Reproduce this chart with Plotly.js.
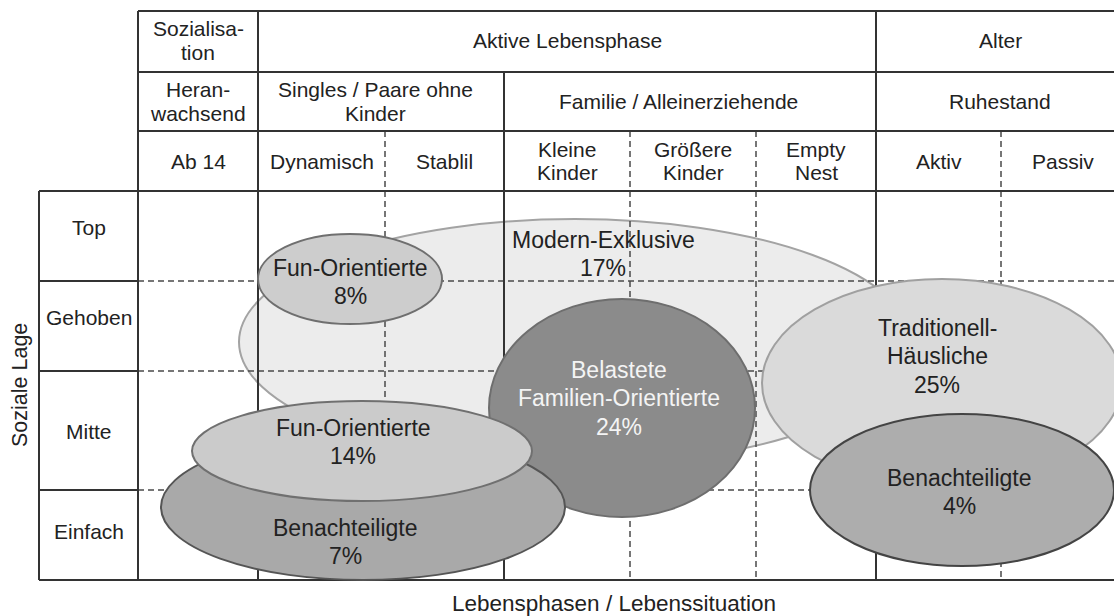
<!DOCTYPE html>
<html>
<head>
<meta charset="utf-8">
<script src="https://cdn.plot.ly/plotly-3.0.1.min.js"></script>
<style>html,body{margin:0;padding:0;background:#fff;}#chart{width:1114px;height:616px;}</style>
</head>
<body>
<div id="chart"></div>
<script>
// ---------- data ----------
const phaseLevel1 = ['Sozialisa-<br>tion', 'Aktive Lebensphase', 'Alter'];
const phaseLevel1Span = [[0, 1], [1, 6], [6, 8]];
const phaseLevel2 = ['Heran-<br>wachsend', 'Singles / Paare ohne<br>Kinder', 'Familie / Alleinerziehende', 'Ruhestand'];
const phaseLevel2Span = [[0, 1], [1, 3], [3, 6], [6, 8]];
const phaseLevel3 = ['Ab 14', 'Dynamisch', 'Stablil', 'Kleine<br>Kinder', 'Größere<br>Kinder', 'Empty<br>Nest', 'Aktiv', 'Passiv'];
const socialClasses = ['Top', 'Gehoben', 'Mitte', 'Einfach'];

const segmentNames = ['Modern-Exklusive', 'Fun-Orientierte', 'Traditionell-<br>Häusliche',
  'Belastete<br>Familien-Orientierte', 'Benachteiligte', 'Fun-Orientierte', 'Benachteiligte'];
const segmentShares = [17, 8, 25, 24, 7, 14, 4];

const xTitle = 'Lebensphasen / Lebenssituation';
const yTitle = 'Soziale Lage';

// ---------- layout geometry (diagram units) ----------
const colEdges = [138, 258, 385, 504, 630, 756, 876, 1001, 1124];
const headerEdges = [11, 72, 131, 191];
const rowEdges = [191, 281, 371, 490, 580];
const rowLabelLeft = 39;
const rowLabelY = [227, 317, 431, 531];
const solidCols = [0, 1, 3, 6, 8];
const solidColTop = [11, 11, 72, 11, 11];
const dashedCols = [2, 4, 5, 7];

const ellCx = [575, 350, 942, 622, 363, 362, 962];
const ellCy = [342, 279, 383, 408, 507, 451, 490];
const ellRx = [336, 92, 180, 133, 202, 170, 152];
const ellRy = [123, 45, 104, 109, 73, 50, 76];
const ellFill = ['rgba(224,224,224,0.6)', '#cdcdcd', '#dadada', '#8b8b8b', '#a9a9a9', '#cbcbcb', '#adadad'];
const ellLine = ['#a3a3a3', '#6f6f6f', '#a0a0a0', '#6e6e6e', '#555555', '#707070', '#444444'];
const ellText = ['#222', '#222', '#222', '#f4f4f4', '#222', '#222', '#222'];
const labelX = [603, 350, 937, 619, 345, 353, 959];
const labelY = [254, 282, 356, 398, 542, 442, 492];

const FONT = 'Liberation Sans, Arial, Helvetica, sans-serif';
const shapes = [];
const annotations = [];

function ellipse(i) {
  shapes.push({type: 'circle', xref: 'x', yref: 'y',
    x0: ellCx[i] - ellRx[i], x1: ellCx[i] + ellRx[i],
    y0: ellCy[i] - ellRy[i], y1: ellCy[i] + ellRy[i],
    fillcolor: ellFill[i], line: {color: ellLine[i], width: 2}});
}
function line(x0, y0, x1, y1, dashed) {
  shapes.push({type: 'line', xref: 'x', yref: 'y', x0: x0, y0: y0, x1: x1, y1: y1,
    line: dashed ? {color: '#4a4a4a', width: 1.5, dash: '6px,4px'} : {color: '#333', width: 2}});
}
function text(label, x, y, size, gap, color) {
  const parts = label.split('<br>');
  parts.forEach((p, k) => {
    annotations.push({xref: 'x', yref: 'y', x: x, y: y + (k - (parts.length - 1) / 2) * gap,
      text: p, showarrow: false, xanchor: 'center', yanchor: 'middle',
      font: {family: FONT, size: size, color: color}});
  });
}

// background ellipse (lines remain visible through it)
ellipse(0);

// dashed grid lines
dashedCols.forEach(c => line(colEdges[c], headerEdges[2], colEdges[c], rowEdges[4], true));
for (let r = 1; r < 4; r++) line(colEdges[0], rowEdges[r], colEdges[8], rowEdges[r], true);

// solid table lines
line(colEdges[0], headerEdges[0], colEdges[8], headerEdges[0]);
line(colEdges[0], headerEdges[1], colEdges[8], headerEdges[1]);
line(colEdges[0], headerEdges[2], colEdges[8], headerEdges[2]);
line(rowLabelLeft, headerEdges[3], colEdges[8], headerEdges[3]);
line(rowLabelLeft, rowEdges[4], colEdges[8], rowEdges[4]);
line(rowLabelLeft, rowEdges[0], rowLabelLeft, rowEdges[4]);
for (let r = 1; r < 4; r++) line(rowLabelLeft, rowEdges[r], colEdges[0], rowEdges[r]);
solidCols.forEach((c, k) => line(colEdges[c], solidColTop[k], colEdges[c], rowEdges[4]));

// remaining ellipses
for (let i = 1; i < ellCx.length; i++) ellipse(i);

// header texts
const mid = (a, b) => (a + b) / 2;
const HS = 21, HG = 23.5;
phaseLevel1.forEach((t, i) => text(t, mid(colEdges[phaseLevel1Span[i][0]], colEdges[phaseLevel1Span[i][1]]),
  mid(headerEdges[0], headerEdges[1]) - 1, HS, HG, '#222'));
phaseLevel2.forEach((t, i) => text(t, mid(colEdges[phaseLevel2Span[i][0]], colEdges[phaseLevel2Span[i][1]]) - (i === 1 ? 6 : 0) - (i === 2 ? 12 : 0),
  mid(headerEdges[1], headerEdges[2]), HS, HG, '#222'));
phaseLevel3.forEach((t, i) => text(t, mid(colEdges[i], colEdges[i + 1]),
  mid(headerEdges[2], headerEdges[3]), HS, HG, '#222'));
socialClasses.forEach((t, i) => text(t, mid(rowLabelLeft, colEdges[0]), rowLabelY[i], HS, HG, '#222'));

// segment labels
segmentNames.forEach((n, i) => text(n + '<br>' + segmentShares[i] + '%', labelX[i], labelY[i], 23, 28.5, ellText[i]));

// axis titles
annotations.push({xref: 'x', yref: 'y', x: 614, y: 603, text: xTitle, showarrow: false,
  xanchor: 'center', yanchor: 'middle', font: {family: FONT, size: 22.5, color: '#222'}});
annotations.push({xref: 'x', yref: 'y', x: 20, y: 385, text: yTitle, showarrow: false, textangle: -90,
  xanchor: 'center', yanchor: 'middle', font: {family: FONT, size: 21.5, color: '#222'}});

const layout = {
  width: 1114, height: 616,
  margin: {l: 0, r: 0, t: 0, b: 0, pad: 0},
  paper_bgcolor: '#fff', plot_bgcolor: '#fff',
  showlegend: false,
  xaxis: {range: [0, 1114], visible: false, fixedrange: true},
  yaxis: {range: [616, 0], visible: false, fixedrange: true},
  shapes: shapes,
  annotations: annotations
};
const trace = {x: [0], y: [0], mode: 'markers', marker: {opacity: 0}, hoverinfo: 'skip'};
Plotly.newPlot('chart', [trace], layout, {staticPlot: true, displayModeBar: false});
</script>
</body>
</html>
